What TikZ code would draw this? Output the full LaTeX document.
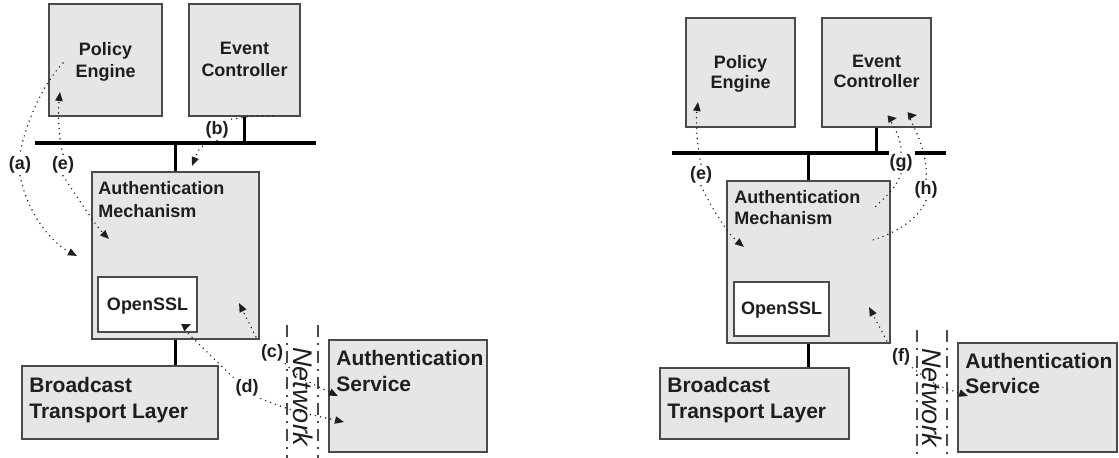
\documentclass[tikz,border=0pt]{standalone}
\usepackage{fontspec}
\setmainfont{Liberation Sans}
\usetikzlibrary{arrows.meta,fit}
\definecolor{boxfill}{HTML}{E6E6E6}
\definecolor{boxline}{HTML}{4A4A4A}
\definecolor{txt}{HTML}{1E1E1E}
\begin{document}
\begin{tikzpicture}[x=0.5pt,y=-0.5pt,
 boxst/.style={draw=boxline, fill=boxfill, line width=0.75pt, inner sep=0pt},
 wboxst/.style={boxst, fill=white},
 ctrtxt/.style={font=\fontsize{9}{11}\selectfont\bfseries, text=txt, align=center, inner sep=0pt, anchor=north},
 bigtxt/.style={font=\fontsize{10.5}{13}\selectfont\bfseries, text=txt, align=left, inner sep=0pt, anchor=north west},
 midtxt/.style={font=\fontsize{9}{11.5}\selectfont\bfseries, text=txt, align=left, inner sep=0pt, anchor=north west},
 lab/.style={font=\fontsize{9}{11}\selectfont\bfseries, text=txt, inner sep=1pt},
 nettext/.style={font=\fontsize{13.5}{16}\selectfont\itshape, text=txt, rotate=-90, inner sep=0pt},
 busst/.style={line width=1.6pt, black},
 netline/.style={line width=0.75pt, boxline, dash pattern=on 6pt off 3pt on 1pt off 3pt},
 dotline/.style={line width=0.8pt, line cap=round, dash pattern=on 0pt off 2.6pt, txt},
 arr/.style={dotline, -{Triangle[length=4.5pt,width=3.6pt]}},
]
\useasboundingbox (0,0) rectangle (1119,458);

% ---------------- left diagram ----------------
\node[boxst, fit={(49,4)(162,116)}] (pe1) {};
\node[ctrtxt] (pe1t) at (105.5,42) {Policy\\Engine};
\node[boxst, fit={(189,4)(300,116)}] (ec1) {};
\node[ctrtxt] (ec1t) at (244.5,42) {Event\\Controller};
\node[boxst, fit={(92,172)(259,339)}] (am1) {};
\node[midtxt] (am1t) at (98,181) {Authentication\\Mechanism};
\node[wboxst, fit={(98,277)(197,332)}] (ssl1) {};
\node[ctrtxt] (ssl1t) at (147.5,298) {OpenSSL};
\node[boxst, fit={(22,366)(218,439)}] (btl1) {};
\node[bigtxt] (btl1t) at (29,377) {Broadcast\\Transport Layer};
\node[boxst, fit={(329,340)(487,452)}] (as1) {};
\node[bigtxt] (as1t) at (336,350) {Authentication\\Service};

\coordinate (bus1L) at (35,143);
\coordinate (bus1R) at (316,143);
\draw[busst] (bus1L) -- (bus1R);
\draw[busst] (ec1.south) -- (ec1.south |- bus1L);
\draw[busst] (am1.north) -- (am1.north |- bus1L);
\draw[busst] (am1.south) -- (am1.south |- btl1.north);

\draw[netline] (287,325) -- (287,458);
\draw[netline] (318,325) -- (318,458);
\node[nettext] (net1) at (303,397) {Network};

% (a)
\coordinate (a0) at (63,63);
\coordinate (a1) at (77,256);
\node[lab] (la) at (20,165) {(a)};
\draw[dotline] (a0) .. controls (42,85) and (25,125) .. (la.north);
\draw[arr] (la.south) .. controls (28,215) and (52,243) .. (a1);
% (e)
\coordinate (e0) at (60,92);
\coordinate (e1) at (109,239);
\node[lab] (le) at (63,165) {(e)};
\draw[arr] (le.north) .. controls (58,135) and (58,110) .. (e0);
\draw[arr] (le.south) .. controls (78,198) and (95,225) .. (e1);
% (b)
\coordinate (b0) at (273,116);
\coordinate (b1) at (192,166);
\node[lab] (lb) at (217,130) {(b)};
\draw[dotline] (b0) .. controls (252,116) .. (lb.north east);
\draw[arr] (lb.south) .. controls (200,146) .. (b1);
% (c)
\coordinate (c0) at (239,303);
\coordinate (c1) at (338,396);
\node[lab] (lc) at (272,353) {(c)};
\draw[arr, shorten <=3pt] (lc.north west) -- (c0);
\draw[arr] (lc.south east) .. controls (300,378) .. (c1);
% (d)
\coordinate (d0) at (191,324);
\coordinate (d1) at (344,422);
\node[lab] (ld) at (247,388) {(d)};
\draw[arr] (ld.north west) .. controls (205,350) and (182,328) .. (d0);
\draw[arr] (ld.south east) .. controls (290,410) .. (d1);

% ---------------- right diagram ----------------
\node[boxst, fit={(686,18)(795,127)}] (pe2) {};
\node[ctrtxt, font=\fontsize{9}{10}\selectfont\bfseries] (pe2t) at (740.5,55) {Policy\\Engine};
\node[boxst, fit={(822,18)(931,127)}] (ec2) {};
\node[ctrtxt, font=\fontsize{9}{10}\selectfont\bfseries] (ec2t) at (876.5,55) {Event\\Controller};
\node[boxst, fit={(727,181)(890,343)}] (am2) {};
\node[midtxt, font=\fontsize{9}{10.5}\selectfont\bfseries] (am2t) at (734,190) {Authentication\\Mechanism};
\node[wboxst, fit={(734,282)(829,336)}] (ssl2) {};
\node[ctrtxt] (ssl2t) at (781.5,302) {OpenSSL};
\node[boxst, fit={(660,368)(849,439)}] (btl2) {};
\node[bigtxt] (btl2t) at (667,377) {Broadcast\\Transport Layer};
\node[boxst, fit={(958,343)(1117,452)}] (as2) {};
\node[bigtxt, font=\fontsize{10.5}{12.5}\selectfont\bfseries] (as2t) at (965,353) {Authentication\\Service};

\coordinate (bus2L) at (672,153);
\coordinate (bus2M) at (889,153);
\coordinate (bus2N) at (915,153);
\coordinate (bus2R) at (946,153);
\draw[busst] (bus2L) -- (bus2M);
\draw[busst] (bus2N) -- (bus2R);
\draw[busst] (ec2.south) -- (ec2.south |- bus2L);
\draw[busst] (am2.north) -- (am2.north |- bus2L);
\draw[busst] (am2.south) -- (am2.south |- btl2.north);

\draw[netline] (917,330) -- (917,458);
\draw[netline] (947,330) -- (947,458);
\node[nettext] (net2) at (932,398) {Network};

% (e)
\coordinate (e2) at (698,102);
\coordinate (e3) at (744,247);
\node[lab] (le2) at (701,175) {(e)};
\draw[arr] (le2.north) .. controls (696,140) and (696,118) .. (e2);
\draw[arr] (le2.south) .. controls (710,205) and (726,232) .. (e3);
% (g)
\coordinate (g0) at (897,118);
\coordinate (g1) at (873,209);
\node[lab] (lg) at (901,163) {(g)};
\draw[arr] (lg.north) .. controls (902,138) and (890,119) .. (g0);
\draw[dotline] (lg.south) .. controls (895,188) .. (g1);
% (h)
\coordinate (h0) at (917,115);
\coordinate (h1) at (873,240);
\node[lab] (lh) at (926,190) {(h)};
\draw[arr] (lh.north) .. controls (929,150) and (908,116) .. (h0);
\draw[dotline] (lh.south) .. controls (918,220) and (895,233) .. (h1);
% (f)
\coordinate (f0) at (869,307);
\coordinate (f1) at (968,396);
\node[lab] (lf) at (901,357) {(f)};
\draw[arr, shorten <=3pt] (lf.north west) -- (f0);
\draw[arr] (lf.south east) .. controls (935,385) .. (f1);
\end{tikzpicture}
\end{document}
